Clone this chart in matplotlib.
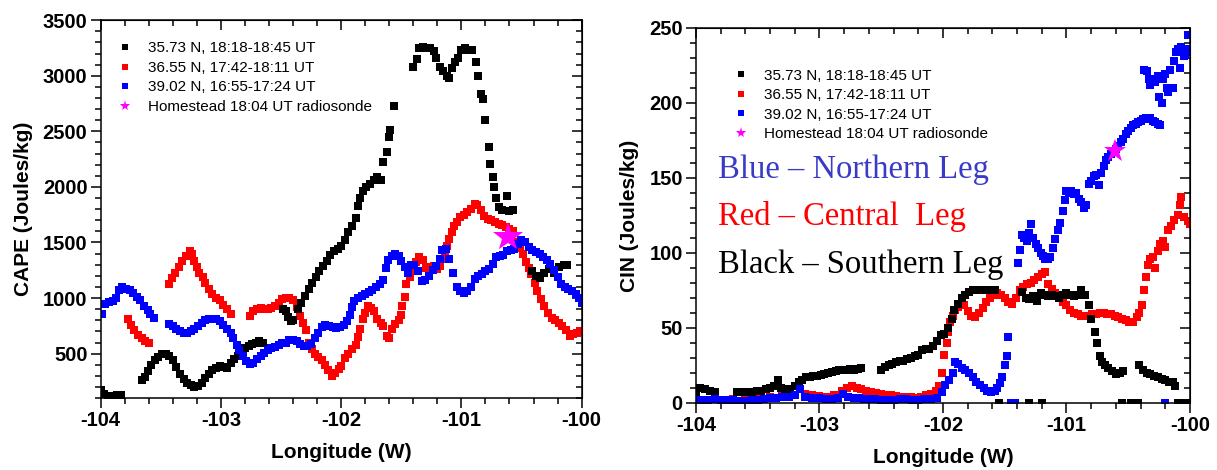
import matplotlib
matplotlib.use("Agg")
import matplotlib.pyplot as plt
from matplotlib.lines import Line2D
from matplotlib.ticker import MultipleLocator

plt.rcParams['font.family'] = ['Liberation Sans', 'DejaVu Sans']
plt.rcParams['axes.unicode_minus'] = False

legend_labels = ["35.73 N, 18:18-18:45 UT", "36.55 N, 17:42-18:11 UT",
                 "39.02 N, 16:55-17:24 UT", "Homestead 18:04 UT radiosonde"]

# ---- CAPE (left panel) ----
cape_black_lon = [-104.00, -103.97, -103.94, -103.90, -103.86, -103.83,
                  -103.66, -103.63, -103.61, -103.58, -103.55, -103.52, -103.49, -103.46, -103.43, -103.40,
                  -103.37, -103.34, -103.31, -103.28, -103.25, -103.22, -103.19, -103.16, -103.13, -103.10,
                  -103.07, -103.04, -103.01, -102.98, -102.95, -102.92, -102.89, -102.86, -102.83, -102.80,
                  -102.77, -102.74, -102.71, -102.68, -102.65,
                  -102.48, -102.46, -102.44, -102.42, -102.40,
                  -102.36, -102.33, -102.30, -102.27, -102.24, -102.21, -102.18, -102.15, -102.12, -102.09,
                  -102.06, -102.03, -102.00, -101.97, -101.94, -101.91, -101.88, -101.86, -101.84, -101.82,
                  -101.79, -101.76, -101.73, -101.70, -101.67, -101.65, -101.62, -101.60, -101.59, -101.56,
                  -101.40, -101.37, -101.35, -101.32, -101.29, -101.26, -101.23, -101.21, -101.18, -101.15,
                  -101.12, -101.10, -101.08, -101.05, -101.03, -101.00, -100.97, -100.94, -100.91, -100.88,
                  -100.86, -100.84, -100.82, -100.80, -100.77, -100.76, -100.74, -100.73, -100.71, -100.69,
                  -100.66, -100.62, -100.60, -100.57,
                  -100.41, -100.38, -100.35, -100.31, -100.27, -100.23, -100.19, -100.15, -100.12]
cape_black = [170, 140, 120, 120, 125, 125,
              260, 290, 340, 400, 440, 470, 495, 500, 480, 440,
              380, 320, 270, 240, 215, 200, 210, 240, 280, 320,
              350, 375, 385, 380, 370, 420, 455, 480, 510, 550,
              570, 585, 595, 610, 600,
              900, 880, 830, 790, 800,
              905, 960, 1020, 1080, 1140, 1190, 1240, 1290, 1330, 1390,
              1420, 1440, 1470, 1520, 1590, 1650, 1720, 1830, 1900, 1960,
              2000, 2030, 2060, 2090, 2060, 2220, 2310, 2450, 2510, 2730,
              3080, 3150, 3250, 3260, 3250, 3250, 3220, 3160, 3080, 3040,
              3000, 2980, 3070, 3120, 3160, 3230, 3250, 3230, 3230, 3120,
              3000, 2840, 2790, 2600, 2360, 2210, 2090, 2000, 1900, 1820,
              1790, 1920, 1780, 1790,
              1240, 1200, 1185, 1230, 1260, 1230, 1280, 1300, 1300]

cape_red_lon = [-103.77, -103.75, -103.72, -103.69, -103.66, -103.63, -103.60,
                -103.43, -103.41, -103.38, -103.35, -103.32, -103.29, -103.26, -103.24, -103.22, -103.20,
                -103.18, -103.15, -103.13, -103.10, -103.07, -103.04, -103.01, -102.98, -102.95, -102.92,
                -102.76, -102.73, -102.70, -102.67, -102.64, -102.61, -102.58, -102.55, -102.52, -102.49,
                -102.46, -102.43, -102.40, -102.37, -102.34, -102.32, -102.29, -102.27, -102.24, -102.22,
                -102.19, -102.16, -102.13, -102.11, -102.08, -102.05, -102.02, -102.00, -101.97, -101.94,
                -101.91, -101.88, -101.86, -101.84, -101.82, -101.80, -101.78, -101.75, -101.73, -101.70,
                -101.67, -101.65, -101.62, -101.60, -101.58, -101.55, -101.52, -101.50, -101.49, -101.47,
                -101.46, -101.43, -101.41, -101.38, -101.35, -101.32, -101.29, -101.26, -101.23, -101.20,
                -101.18, -101.16, -101.14, -101.12, -101.10, -101.08, -101.06, -101.04, -101.01, -100.98,
                -100.95, -100.92, -100.89, -100.87, -100.84, -100.81, -100.78, -100.75, -100.72, -100.69,
                -100.66, -100.63, -100.60, -100.57, -100.54, -100.51, -100.49, -100.46, -100.44, -100.42,
                -100.39, -100.37, -100.34, -100.31, -100.28, -100.25, -100.22, -100.19, -100.16, -100.13,
                -100.10, -100.07, -100.04, -100.01]
cape_red = [810, 760, 710, 670, 640, 615, 595,
            1130, 1180, 1230, 1280, 1330, 1380, 1420, 1400, 1330, 1280,
            1230, 1190, 1140, 1080, 1040, 1000, 980, 940, 900, 860,
            840, 880, 900, 910, 900, 905, 910, 930, 960, 990,
            1000, 1000, 980, 920, 840, 780, 710, 600, 540, 500,
            470, 440, 400, 350, 300, 330, 360, 390, 460, 500,
            540, 580, 650, 720, 810, 870, 930, 910, 880, 810,
            780, 750, 660, 640, 720, 770, 800, 850, 930, 1010,
            1130, 1190, 1240, 1320, 1370, 1340, 1270, 1280, 1290, 1260,
            1290, 1350, 1410, 1470, 1530, 1590, 1650, 1680, 1730, 1750,
            1770, 1800, 1850, 1840, 1790, 1740, 1710, 1700, 1680, 1670,
            1660, 1640, 1620, 1600, 1500, 1450, 1400, 1320, 1270, 1220,
            1140, 1060, 990, 930, 870, 820, 800, 780, 750, 710,
            660, 680, 690, 700]

cape_blue_lon = [-103.99, -103.96, -103.93, -103.90, -103.87, -103.85, -103.82, -103.79, -103.76, -103.73,
                 -103.70, -103.67, -103.64, -103.61, -103.59, -103.56,
                 -103.43, -103.40, -103.37, -103.34, -103.31, -103.28, -103.25, -103.22, -103.19, -103.16,
                 -103.13, -103.10, -103.07, -103.04, -103.01, -102.98, -102.95, -102.92, -102.90, -102.87,
                 -102.85, -102.82, -102.79, -102.76, -102.73, -102.70, -102.67, -102.64, -102.61, -102.58,
                 -102.55, -102.52, -102.49, -102.46, -102.43, -102.40, -102.37, -102.34, -102.31, -102.28,
                 -102.25, -102.22, -102.19, -102.16, -102.13, -102.10, -102.07, -102.04, -102.01, -101.98,
                 -101.95, -101.93, -101.91, -101.89, -101.86, -101.83, -101.80, -101.77, -101.74, -101.71,
                 -101.68, -101.65, -101.63, -101.61, -101.58, -101.55, -101.52, -101.50, -101.47, -101.44,
                 -101.42, -101.39, -101.36, -101.33, -101.30, -101.27, -101.24, -101.21, -101.18, -101.16,
                 -101.13, -101.10, -101.07, -101.04, -101.01, -100.98, -100.95, -100.92, -100.89, -100.86,
                 -100.83, -100.80, -100.77, -100.74, -100.71, -100.68, -100.65, -100.62, -100.59, -100.56,
                 -100.53, -100.50, -100.47, -100.44, -100.41, -100.38, -100.35, -100.32, -100.29, -100.26,
                 -100.23, -100.20, -100.17, -100.14, -100.11, -100.08, -100.05, -100.02, -100.00]
cape_blue = [860, 950, 965, 975, 1000, 1070, 1100, 1080, 1070, 1050,
             1010, 980, 930, 890, 860, 820,
             770, 750, 720, 700, 690, 690, 700, 720, 750, 780,
             800, 815, 815, 810, 790, 760, 720, 690, 640, 580,
             530, 480, 430, 410, 420, 450, 480, 510, 530, 550,
             560, 580, 595, 600, 620, 625, 610, 590, 570, 565,
             590, 640, 690, 740, 760, 750, 740, 735, 740, 760,
             790, 850, 920, 970, 1000, 1020, 1040, 1055, 1070, 1100,
             1130, 1160, 1270, 1340, 1380, 1400, 1380, 1330, 1280, 1230,
             1300, 1300, 1240, 1150, 1160, 1200, 1250, 1290, 1350, 1430,
             1440, 1350, 1230, 1100, 1060, 1050, 1060, 1100, 1170, 1200,
             1220, 1240, 1260, 1310, 1370, 1380, 1390, 1420, 1430, 1440,
             1490, 1520, 1500, 1460, 1430, 1410, 1400, 1370, 1340, 1310,
             1250, 1190, 1130, 1100, 1080, 1060, 1040, 1000, 960]

cape_star = (-100.61, 1550)

# ---- CIN (right panel) ----
cin_black_lon = [-104.00, -103.97, -103.93, -103.89, -103.85,
                 -103.67, -103.63, -103.59, -103.55, -103.51, -103.47, -103.43, -103.40, -103.37, -103.34,
                 -103.31, -103.28, -103.24, -103.20, -103.17, -103.14, -103.11, -103.08, -103.05, -103.02,
                 -102.99, -102.96, -102.93, -102.90, -102.87, -102.84, -102.81, -102.78, -102.75, -102.72,
                 -102.69, -102.66,
                 -102.50, -102.47, -102.44, -102.41, -102.38, -102.35, -102.32, -102.29, -102.26, -102.23,
                 -102.20, -102.17, -102.14, -102.11, -102.08, -102.05, -102.02, -101.99, -101.96, -101.93,
                 -101.91, -101.88, -101.85, -101.82, -101.79, -101.76, -101.73, -101.70, -101.67, -101.64,
                 -101.61, -101.58,
                 -101.36, -101.33, -101.30, -101.27, -101.24, -101.21, -101.18, -101.15, -101.12, -101.09,
                 -101.06, -101.03, -101.00, -100.97, -100.94, -100.91, -100.88, -100.85, -100.82, -100.80,
                 -100.77, -100.75, -100.73, -100.71, -100.69, -100.66, -100.63, -100.60, -100.57, -100.54,
                 -100.41, -100.38, -100.35, -100.32, -100.29, -100.26, -100.23, -100.20, -100.17, -100.14,
                 -100.12,
                 -101.55, -101.45, -101.30, -101.20, -100.55, -100.48, -100.42, -100.10, -100.05, -100.01]
cin_black = [5, 10, 9, 8, 7,
             7, 7.5, 7, 7.5, 8, 8, 9, 10, 11, 15,
             10, 9, 9, 11, 14, 15, 17, 17.5, 18, 18,
             18.5, 19, 20, 20.5, 21, 22, 22, 22, 22.5, 22,
             22.5, 23,
             22, 24, 25, 26, 27, 28, 28, 29, 30, 31,
             32, 35, 36, 36, 38, 41, 45, 46, 50, 56,
             62, 66, 70, 72, 74, 75, 75, 75, 75, 75,
             75, 75,
             74, 70, 69, 71, 68, 73, 72, 71, 72, 71,
             70, 72, 73, 72, 71, 72, 75, 72, 65, 56,
             47, 40, 31, 27, 25, 23, 21, 19, 20, 21,
             25, 22, 20, 19, 18, 17, 16, 15, 14, 14,
             11,
             0, 0, 0, 0, 0, 0, 0, 0, 0, 0]

cin_red_lon = [-104.00, -103.90, -103.80, -103.70, -103.60, -103.50, -103.40, -103.30, -103.20, -103.12,
               -103.06, -103.00, -102.94, -102.88, -102.82, -102.78, -102.74, -102.70, -102.66, -102.62,
               -102.58, -102.54, -102.50, -102.46, -102.42, -102.38, -102.34, -102.30, -102.26, -102.22,
               -102.18, -102.14, -102.10, -102.06, -102.03,
               -102.01, -101.99, -101.97, -101.96, -101.94, -101.92, -101.90, -101.88, -101.86, -101.83,
               -101.80, -101.77, -101.74, -101.71, -101.68, -101.65, -101.62, -101.59, -101.56, -101.53,
               -101.50, -101.47, -101.44, -101.41, -101.38, -101.35, -101.32, -101.29, -101.26, -101.23,
               -101.20, -101.17, -101.15, -101.12, -101.09, -101.06, -101.03, -101.00, -100.97, -100.94,
               -100.91, -100.88, -100.85, -100.82, -100.79, -100.76, -100.73, -100.70, -100.67, -100.64,
               -100.61, -100.58, -100.55, -100.52, -100.49, -100.46, -100.43, -100.41, -100.39, -100.37,
               -100.36, -100.34, -100.32, -100.30, -100.28, -100.26, -100.24, -100.22, -100.20, -100.18,
               -100.15, -100.13, -100.10, -100.08, -100.07, -100.05, -100.02, -100.00]
cin_red = [2, 2, 2, 2.5, 3, 3.5, 4, 4.5, 5, 6,
           5, 4.5, 4, 5, 8, 10, 11, 10, 9, 8,
           7, 6.5, 6, 5.5, 5, 4.5, 4, 4, 4, 3.5,
           4, 5, 6, 8, 11,
           20, 32, 40, 47, 54, 58, 62, 64, 66, 65,
           61, 58, 57, 60, 63, 67, 70, 72, 73, 72,
           70, 67, 66, 70, 75, 77, 79, 80, 82, 84,
           86, 87, 79, 76, 73, 70, 67, 65, 62, 60,
           59, 58, 58, 58, 59, 59, 60, 60, 59, 59,
           58, 57, 56, 55, 54, 54, 57, 60, 65, 75,
           84, 92, 96, 97, 90, 101, 106, 108, 104, 115,
           118, 122, 125, 132, 137, 124, 121, 119]

cin_blue_lon = [-104.00, -103.95, -103.90, -103.85, -103.80, -103.75, -103.70, -103.65, -103.60, -103.55,
                -103.50, -103.45, -103.40, -103.35, -103.30, -103.25, -103.20, -103.16, -103.12, -103.06,
                -103.00, -102.95, -102.90, -102.85, -102.81, -102.77, -102.72, -102.68, -102.64, -102.60,
                -102.55, -102.50, -102.45, -102.40, -102.35, -102.30, -102.25, -102.20, -102.15, -102.10,
                -102.05,
                -102.01, -101.98, -101.95, -101.92, -101.90, -101.88, -101.85, -101.82, -101.79, -101.76,
                -101.73, -101.70, -101.67, -101.64, -101.61, -101.58, -101.56, -101.54, -101.52, -101.50,
                -101.48, -101.47,
                -101.45, -101.42, -100.20,
                -101.39, -101.38, -101.36, -101.34, -101.32, -101.30, -101.29, -101.27, -101.25, -101.23,
                -101.21, -101.19, -101.17, -101.15, -101.13, -101.11, -101.09, -101.07, -101.05, -101.03,
                -101.01, -101.00, -100.98, -100.96, -100.94, -100.92, -100.90, -100.88, -100.86, -100.84,
                -100.82, -100.80, -100.78, -100.76, -100.74, -100.72, -100.70, -100.68, -100.66, -100.64,
                -100.62, -100.60, -100.58, -100.56, -100.54, -100.52, -100.50, -100.48, -100.46, -100.44,
                -100.42, -100.40, -100.38, -100.36, -100.34, -100.32, -100.30, -100.28, -100.26, -100.24,
                -100.37, -100.35, -100.33, -100.32, -100.30, -100.28, -100.26, -100.25, -100.23, -100.22,
                -100.20, -100.19, -100.18, -100.16, -100.14, -100.13, -100.11, -100.10, -100.08, -100.07,
                -100.05, -100.04, -100.02, -100.01, -100.00]
cin_blue = [2, 2, 2, 2.5, 2, 2, 2, 1.5, 1.5, 2,
            2, 2.5, 3, 3.5, 4, 4, 5, 9, 4, 3,
            3, 2.5, 2.5, 3, 6, 4, 3, 3, 2.5, 2.5,
            2.5, 2, 2, 2, 2.5, 2.5, 2, 2, 2.5, 2.5,
            3,
            7, 12, 15, 20, 27, 26, 23, 22, 20, 17,
            14, 12, 10, 8, 7, 8, 10, 13, 17, 25,
            31, 44,
            0, 0, 0,
            93, 102, 112, 110, 108, 113, 119, 110, 106, 103,
            100, 98, 96, 96, 97, 103, 109, 115, 120, 128,
            135, 141, 140, 141, 139, 140, 136, 134, 130, 132,
            146, 148, 151, 152, 145, 153, 158, 162, 164, 166,
            167, 169, 171, 174, 176, 179, 181, 183, 185, 186,
            187, 188, 189, 190, 189, 190, 188, 187, 186, 185,
            222, 221, 216, 212, 216, 214, 218, 204, 200, 216,
            219, 210, 207, 222, 210, 228, 234, 236, 223, 237,
            231, 232, 245, 236, 234]

cin_star = (-100.61, 168)

MS = 5.6


def style_axes(ax, ylim, ymajor, yminor, ylabel):
    ax.set_xlim(-104, -100)
    ax.set_ylim(*ylim)
    ax.xaxis.set_major_locator(MultipleLocator(1))
    ax.xaxis.set_minor_locator(MultipleLocator(0.2))
    ax.yaxis.set_major_locator(MultipleLocator(ymajor))
    ax.yaxis.set_minor_locator(MultipleLocator(yminor))
    ax.tick_params(which='both', direction='out', width=1.1, pad=2.5)
    ax.tick_params(which='major', length=7, labelsize=14.5)
    ax.tick_params(which='minor', length=4)
    for lab in ax.get_xticklabels() + ax.get_yticklabels():
        lab.set_fontweight('bold')
    for sp in ax.spines.values():
        sp.set_linewidth(1.1)
    # mirrored ticks pointing inward on top and right
    top = ax.secondary_xaxis('top')
    top.xaxis.set_major_locator(MultipleLocator(1))
    top.xaxis.set_minor_locator(MultipleLocator(0.2))
    top.tick_params(which='both', direction='in', width=1.1, labeltop=False)
    top.tick_params(which='major', length=7)
    top.tick_params(which='minor', length=4)
    right = ax.secondary_yaxis('right')
    right.yaxis.set_major_locator(MultipleLocator(ymajor))
    right.yaxis.set_minor_locator(MultipleLocator(yminor))
    right.tick_params(which='both', direction='in', width=1.1, labelright=False)
    right.tick_params(which='major', length=7)
    right.tick_params(which='minor', length=4)
    ax.set_xlabel("Longitude (W)", fontsize=15, fontweight='bold', labelpad=9)
    ax.set_ylabel(ylabel, fontsize=15, fontweight='bold', labelpad=7)


def draw_series(ax, black, red, blue, star, star_size):
    ax.plot(red[0], red[1], 's', color='red', ms=MS, mew=0, ls='none')
    ax.plot(black[0], black[1], 's', color='black', ms=MS, mew=0, ls='none')
    ax.plot(blue[0], blue[1], 's', color='blue', ms=MS, mew=0, ls='none')
    ax.plot([star[0]], [star[1]], '*', color='magenta', ms=star_size, mew=0, ls='none')


def add_legend(ax, x0, y0):
    handles = [Line2D([], [], marker='s', color='black', ls='none', ms=5, mew=0),
               Line2D([], [], marker='s', color='red', ls='none', ms=5, mew=0),
               Line2D([], [], marker='s', color='blue', ls='none', ms=5, mew=0),
               Line2D([], [], marker='*', color='magenta', ls='none', ms=8, mew=0)]
    ax.legend(handles, legend_labels, loc='upper left', bbox_to_anchor=(x0, y0),
              frameon=False, fontsize=11, handlelength=1.0, handletextpad=1.0,
              labelspacing=0.36, borderpad=0, borderaxespad=0)


fig = plt.figure(figsize=(12.17, 4.70), dpi=100)
ax1 = fig.add_axes([0.0827, 0.153, 0.3952, 0.804])
ax2 = fig.add_axes([0.5719, 0.1426, 0.4059, 0.798])

draw_series(ax1, (cape_black_lon, cape_black), (cape_red_lon, cape_red),
            (cape_blue_lon, cape_blue), cape_star, 22)
style_axes(ax1, (100, 3500), 500, 100, "CAPE (Joules/kg)")
add_legend(ax1, 0.035, 0.944)

draw_series(ax2, (cin_black_lon, cin_black), (cin_red_lon, cin_red),
            (cin_blue_lon, cin_blue), cin_star, 17)
style_axes(ax2, (0, 250), 50, 10, "CIN (Joules/kg)")
add_legend(ax2, 0.076, 0.891)

serif = ['Liberation Serif', 'DejaVu Serif']
ax2.text(-103.82, 150, "Blue \u2013 Northern Leg", color='#3a3ac8', fontsize=23.5,
         family=serif, va='baseline')
ax2.text(-103.82, 118.5, "Red \u2013 Central  Leg", color='red', fontsize=23.5,
         family=serif, va='baseline')
ax2.text(-103.82, 86.5, "Black \u2013 Southern Leg", color='black', fontsize=23.5,
         family=serif, va='baseline')

fig.savefig("out.png", dpi=100)
